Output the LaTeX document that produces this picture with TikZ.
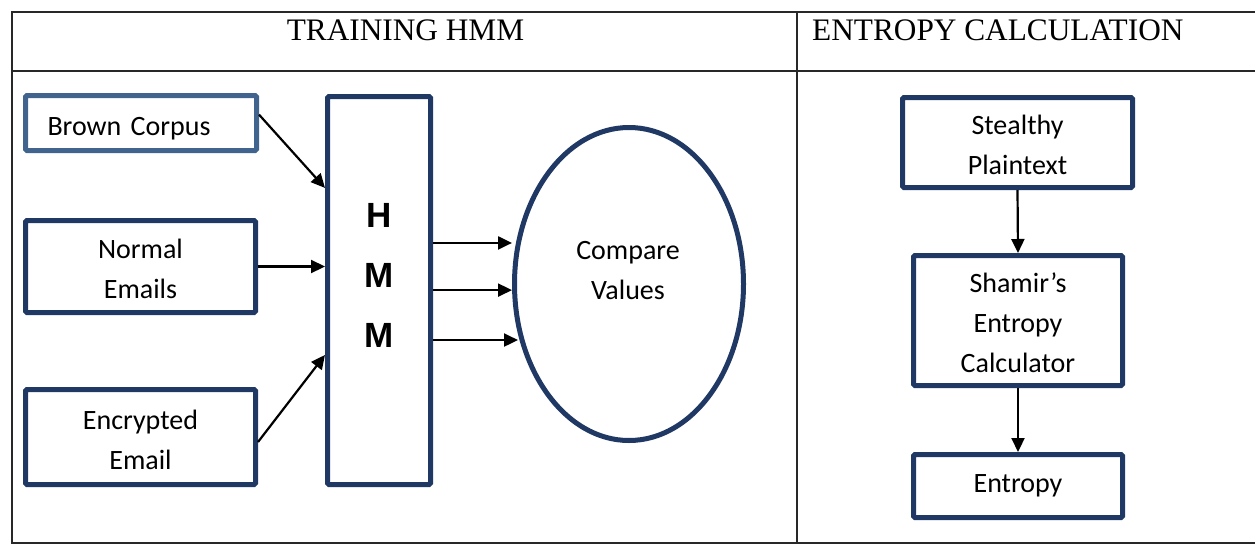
\documentclass[tikz,border=0pt]{standalone}
\usepackage{fontspec}
\setmainfont{Liberation Serif}
\newfontfamily\boxfont{Carlito}
\newfontfamily\hmmfont{Liberation Sans}
\usepackage{xcolor}
\usetikzlibrary{arrows.meta,calc,shapes.geometric}

\definecolor{navy}{RGB}{31,56,100}
\definecolor{steel}{RGB}{65,100,143}
\definecolor{gridline}{RGB}{40,40,40}

% taller first line, so the text sits like a word-processor line box
\newcommand\topgap{\rule{0pt}{25pt}}

\begin{document}
\begin{tikzpicture}[x=1pt,y=1pt,yscale=-1,xscale=1,
  box/.style={draw=navy,line width=5pt,rounded corners=1.5pt,inner sep=0pt,align=center,
    font=\boxfont\fontsize{28}{40}\selectfont},
  boxtext/.style={inner sep=0pt,align=center,font=\boxfont\fontsize{28}{40}\selectfont},
  flow/.style={line width=2.2pt,-{Triangle[length=14pt,width=13pt]}},
  head/.style={inner sep=0pt,font=\fontsize{31.3}{31.3}\selectfont}]
\useasboundingbox (0,0) rectangle (1255,544);

%Shape: Table
\draw [gridline,line width=1.5pt] (1256,12) -- (12,12) -- (12,543) -- (1256,543) ;
\draw [gridline,line width=1.5pt] (12,71) -- (1256,71) (797,12) -- (797,543) ;

% Text Node
\node [head,anchor=base] (trainhead) at (405.5,40) {TRAINING HMM};
% Text Node
\node [head,anchor=base west] (entrohead) at (812,40) {ENTROPY CALCULATION};

%Shape: Rectangle
\node [box,draw=steel,minimum width=231pt,minimum height=55pt,text width=187pt,inner xsep=22pt,align=left,text depth=0pt] (brown) at (141,123) {\topgap Brown Corpus};
%Shape: Rectangle
\node [box,minimum width=230pt,minimum height=92pt] (normal) at (140.5,266.5) {\topgap Normal\\Emails};
%Shape: Rectangle
\node [box,minimum width=230pt,minimum height=95pt] (encrypted) at (140.5,437) {\topgap Encrypted\\Email};

%Shape: Rectangle
\node [box,minimum width=103pt,minimum height=388pt] (hmm) at (379,290.5) {};
% Text Node
\node [inner sep=0pt,align=center,font=\hmmfont\bfseries\fontsize{35}{60}\selectfont] (hmmlabel) at (379,275) {H\\M\\M};

%Shape: Ellipse
\node [box,ellipse,minimum width=229pt,minimum height=313pt] (cmp) at (629,284) {};
% Text Node
\node [boxtext] (cmplabel) at (628,271) {Compare\\Values};

%Straight Lines
\draw [flow] ($(brown.north east)!0.36!(brown.south east)$) -- ($(hmm.north west)!0.239!(hmm.south west)$);
\draw [flow] (normal.east) -- (normal.east -| hmm.west);
\draw [flow] ($(encrypted.north east)!0.55!(encrypted.south east)$) -- ($(hmm.north west)!0.664!(hmm.south west)$);
\foreach \f/\s [count=\i] in {0.379/0pt,0.499/0pt,0.626/-6pt}{
  \coordinate (out\i) at ($(hmm.north east)!\f!(hmm.south east)$);
  \draw [flow,shorten >=\s] (out\i) -- (out\i -| cmp.west);
}

%Shape: Rectangle
\node [box,minimum width=230pt,minimum height=90pt] (stealthy) at (1017.5,142.5) {\topgap Stealthy\\Plaintext};
%Shape: Rectangle
\node [box,minimum width=209pt,minimum height=130pt] (shamir) at (1018,320.5) {\topgap Shamir’s\\Entropy\\Calculator};
%Shape: Rectangle
\node [box,minimum width=209pt,minimum height=63pt] (entropy) at (1018,486) {Entropy};

%Straight Lines
\draw [flow] (stealthy.south) -- (shamir.north);
\draw [flow] (shamir.south) -- (entropy.north);
\end{tikzpicture}
\end{document}
